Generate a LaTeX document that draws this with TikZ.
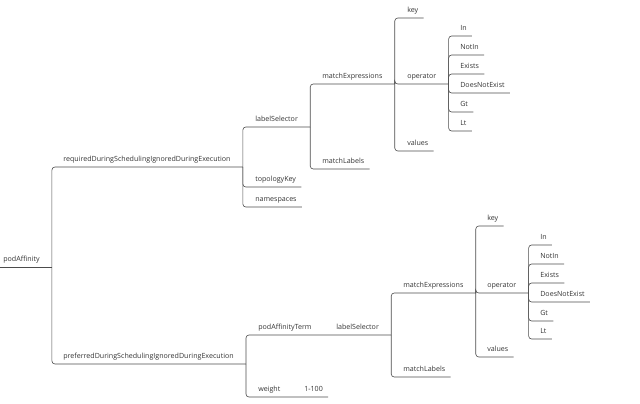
\documentclass[tikz,border=0pt]{standalone}
\usepackage{fontspec}
\setmainfont{Open Sans}
\usepackage{tikz}
\usetikzlibrary{positioning,calc}

\begin{document}
\begin{tikzpicture}[x=1pt, y=-1pt, semithick, rounded corners=3pt,
     every node/.style={anchor=south west, font=\fontsize{7.1}{8}\selectfont, text=black!80,
       text height=5.2pt, text depth=1.6pt, inner ysep=3.4pt},
     branch/.style={inner xsep=12pt, xshift=-12pt},
     leaf/.style={inner xsep=5pt, xshift=-5pt}]
    \useasboundingbox (0,0) rectangle (640,404);
    \node[branch] (root) at (3, 267) {podAffinity};
    % required branch
    \node[branch] (req) at (63, 167) {requiredDuringSchedulingIgnoredDuringExecution};
    \node[branch] (ls1) at (255, 127) {labelSelector};
    \node[leaf] (tk) at (255, 187) {topologyKey};
    \node[leaf] (ns) at (255, 207) {namespaces};
    \node[branch] (me1) at (322, 84) {matchExpressions};
    \node[leaf] (ml1) at (322, 169) {matchLabels};
    \node[leaf] (key1) at (407, 18) {key};
    \node[branch] (op1) at (407, 84) {operator};
    \node[leaf] (val1) at (407, 151) {values};
    \node[leaf] (in1) at (460, 36) {In};
    \node[leaf] (notin1) at (460, 55) {NotIn};
    \node[leaf] (ex1) at (460, 74) {Exists};
    \node[leaf] (dne1) at (460, 93) {DoesNotExist};
    \node[leaf] (gt1) at (460, 112) {Gt};
    \node[leaf] (lt1) at (460, 131) {Lt};
    % preferred branch
    \node[branch] (pref) at (63, 364) {preferredDuringSchedulingIgnoredDuringExecution};
    \node[branch] (pat) at (258, 335) {podAffinityTerm};
    \node[branch] (ls2) at (336, 335) {labelSelector};
    \node[branch] (wt) at (258, 397) {weight};
    \node[leaf] (rng) at (304, 397) {1-100};
    \node[branch] (me2) at (403, 293) {matchExpressions};
    \node[leaf] (ml2) at (403, 377) {matchLabels};
    \node[leaf] (key2) at (487, 226) {key};
    \node[branch] (op2) at (487, 293) {operator};
    \node[leaf] (val2) at (487, 357) {values};
    \node[leaf] (in2) at (540, 245) {In};
    \node[leaf] (notin2) at (540, 264) {NotIn};
    \node[leaf] (ex2) at (540, 283) {Exists};
    \node[leaf] (dne2) at (540, 302) {DoesNotExist};
    \node[leaf] (gt2) at (540, 321) {Gt};
    \node[leaf] (lt2) at (540, 339) {Lt};

    \begin{scope}[black!70]
    \draw (root.south west) -- (root.south east);
    \foreach \a/\b in {root/req, root/pref, req/ls1, req/tk, req/ns, ls1/me1, ls1/ml1,
        me1/key1, me1/op1, me1/val1, op1/in1, op1/notin1, op1/ex1, op1/dne1, op1/gt1, op1/lt1,
        ls2/me2, ls2/ml2,
        me2/key2, me2/op2, me2/val2, op2/in2, op2/notin2, op2/ex2, op2/dne2, op2/gt2, op2/lt2}
      \draw (\a.south east) |- (\b.south east);
    % single children run straight on
    \draw (pref.south east) |- (pat.south east) -- (ls2.south east);
    \draw (pref.south east) |- (wt.south east) -- (rng.south east);
    \end{scope}
\end{tikzpicture}
\end{document}
